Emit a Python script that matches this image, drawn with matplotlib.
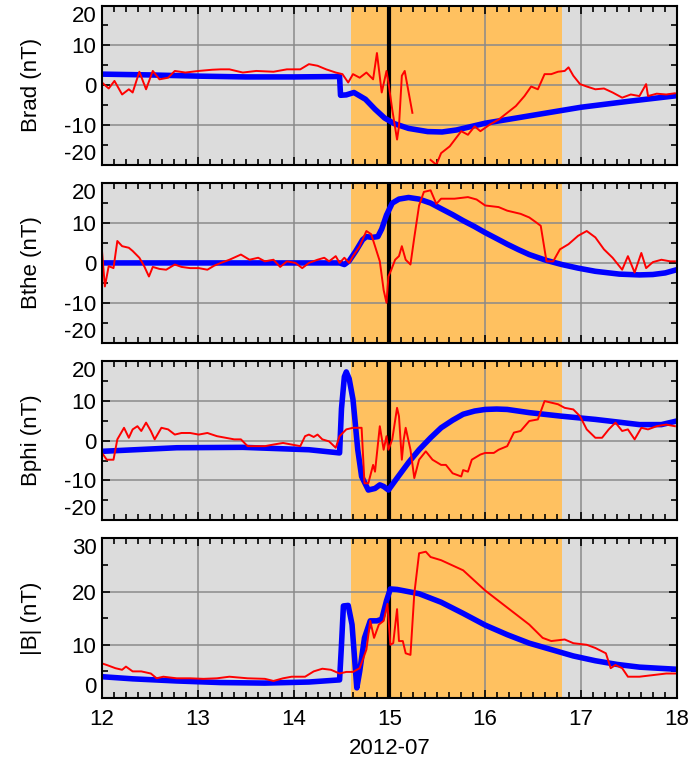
import numpy as np
import matplotlib
matplotlib.use("Agg")
import matplotlib.pyplot as plt
from matplotlib.ticker import MultipleLocator

plt.rcParams['font.family'] = ['Liberation Sans', 'DejaVu Sans']
plt.rcParams['axes.unicode_minus'] = False

# ---------------- data (days of 2012-07) ----------------
brad_obs_t = [12.00, 12.07, 12.13, 12.21, 12.28, 12.32, 12.39, 12.46, 12.53, 12.60, 12.69, 12.76,
              12.87, 13.01, 13.15, 13.24, 13.33, 13.47, 13.61, 13.79, 13.93, 14.07, 14.16, 14.25,
              14.34, 14.44, 14.51, 14.57, 14.62, 14.69, 14.76, 14.83, 14.87, 14.92, 14.97, 14.99,
              15.03, 15.08, 15.10, 15.13, 15.16, 15.24, 15.30,
              15.43, 15.49, 15.54, 15.63, 15.75, 15.82, 15.89, 15.95, 16.05, 16.14, 16.23, 16.32,
              16.41, 16.48, 16.55, 16.62, 16.69, 16.76, 16.83, 16.87, 16.92, 16.99, 17.06, 17.15,
              17.24, 17.33, 17.43, 17.52, 17.61, 17.68, 17.70, 17.79, 17.89, 17.98]
brad_obs_v = [0.7, -0.8, 1.1, -2.3, -1.0, -1.8, 3.4, -1.0, 3.6, 1.5, 1.9, 3.6,
              3.2, 3.6, 3.9, 4.0, 4.0, 3.2, 3.6, 3.4, 4.0, 4.0, 5.3, 4.9,
              4.0, 3.2, 2.8, 0.7, 2.8, 1.9, 3.2, 1.5, 8.1, -1.8, 3.6, 0.7,
              -6.1, -13.6, -10.3, 2.4, 3.6, -6.9, np.nan,
              -18.7, -19.9, -17.0, -15.3, -11.5, -12.4, -10.3, -11.5, -9.8, -8.6, -6.9, -5.2,
              -2.7, -0.3, -1.0, 2.8, 2.8, 3.4, 3.6, 4.5, 2.4, 0.3, -0.3, -1.0,
              -0.8, -1.8, -3.1, -2.3, -2.7, 0.3, -2.7, -2.1, -2.3, -2.0]
brad_mod_t = [12.0, 12.5, 13.0, 13.5, 14.0, 14.48, 14.49, 14.55, 14.63, 14.75, 14.85, 14.95,
              15.05, 15.2, 15.4, 15.55, 15.7, 16.0, 16.5, 17.0, 17.5, 18.0]
brad_mod_v = [2.8, 2.6, 2.3, 2.1, 2.1, 2.2, -2.5, -2.4, -1.8, -3.5, -6.0, -8.2,
              -9.6, -10.8, -11.6, -11.7, -11.2, -9.5, -7.5, -5.5, -4.0, -2.6]

bthe_obs_t = [12.00, 12.03, 12.07, 12.12, 12.16, 12.21, 12.28, 12.32, 12.39, 12.44, 12.49, 12.53,
              12.60, 12.67, 12.76, 12.83, 12.92, 13.01, 13.10, 13.17, 13.24, 13.33, 13.45, 13.54,
              13.63, 13.70, 13.79, 13.86, 13.93, 14.02, 14.09, 14.16, 14.25, 14.32, 14.37, 14.44,
              14.48, 14.53, 14.58, 14.62, 14.69, 14.76, 14.81, 14.85, 14.90, 14.94, 14.97, 14.99,
              15.02, 15.06, 15.10, 15.13, 15.17, 15.22, 15.26, 15.31, 15.36, 15.43, 15.49, 15.54,
              15.68, 15.82, 15.91, 16.00, 16.14, 16.23, 16.37, 16.46, 16.53, 16.58, 16.64, 16.71,
              16.78, 16.87, 16.97, 17.06, 17.15, 17.24, 17.33, 17.43, 17.49, 17.56, 17.63, 17.68,
              17.75, 17.84, 17.93, 17.98]
bthe_obs_v = [3.0, -5.9, -0.8, -1.3, 5.5, 4.2, 3.8, 3.0, 1.3, -0.8, -3.4, -1.0,
              -1.5, -1.7, -0.4, -1.0, -1.3, -1.3, -1.7, -0.7, 0.0, 0.8, 2.1, 0.8,
              1.3, 0.4, 0.8, -1.0, 0.4, 0.0, -1.3, 0.0, 0.8, 1.3, 0.4, 1.7,
              0.0, 1.3, 0.0, 1.7, 4.2, 8.0, 7.2, 4.2, 0.4, -6.8, -10.0, -3.4,
              -1.7, 0.8, 1.7, 4.2, 0.8, -0.4, 6.4, 14.4, 17.8, 18.2, 14.8, 16.1,
              16.1, 16.5, 15.9, 14.4, 14.0, 13.1, 12.3, 11.4, 10.2, 9.3, 0.4, 0.4,
              3.4, 4.7, 6.8, 8.0, 6.4, 3.4, 1.3, -1.7, 1.7, -2.4, 2.5, -1.3,
              0.2, 0.8, 0.4, 0.4]
bthe_mod_t = [12.0, 13.0, 14.0, 14.48, 14.53, 14.58, 14.65, 14.72, 14.76, 14.82, 14.88, 14.92,
              14.97, 15.03, 15.10, 15.20, 15.31, 15.43, 15.54, 15.66, 15.77, 15.89, 16.00, 16.12,
              16.23, 16.35, 16.46, 16.63, 16.80, 16.97, 17.15, 17.40, 17.61, 17.75, 17.88, 18.0]
bthe_mod_v = [0.0, 0.0, 0.0, 0.0, -0.4, 0.5, 3.0, 5.8, 6.6, 6.4, 6.6, 8.5,
              12.0, 15.0, 16.0, 16.4, 16.0, 15.0, 13.6, 12.1, 10.6, 9.1, 7.6, 6.1,
              4.7, 3.3, 2.1, 0.7, -0.4, -1.3, -2.1, -2.8, -3.0, -2.9, -2.5, -1.7]

bphi_obs_t = [12.00, 12.05, 12.12, 12.16, 12.23, 12.28, 12.32, 12.37, 12.41, 12.46, 12.51, 12.55,
              12.62, 12.69, 12.76, 12.83, 12.92, 13.01, 13.10, 13.20, 13.29, 13.38, 13.45, 13.52,
              13.61, 13.70, 13.79, 13.89, 13.98, 14.07, 14.12, 14.16, 14.21, 14.25, 14.30, 14.37,
              14.44, 14.48, 14.55, 14.62, 14.71, 14.74, 14.78, 14.83, 14.85, 14.90, 14.94, 14.97,
              14.99, 15.03, 15.08, 15.10, 15.13, 15.15, 15.17, 15.22, 15.26, 15.31, 15.38, 15.45,
              15.54, 15.59, 15.66, 15.75, 15.77, 15.82, 15.86, 15.95, 16.00, 16.09, 16.14, 16.23,
              16.30, 16.37, 16.46, 16.55, 16.62, 16.69, 16.76, 16.83, 16.92, 16.99, 17.06, 17.15,
              17.22, 17.29, 17.36, 17.43, 17.49, 17.56, 17.63, 17.70, 17.79, 17.89, 17.98]
bphi_obs_v = [-3.1, -4.8, -4.8, 0.3, 3.2, 0.7, 2.8, 3.6, 2.4, 4.5, 2.4, 0.3,
              3.2, 2.8, 1.5, 1.9, 1.9, 1.5, 1.9, 1.1, 0.7, 0.3, 0.3, -1.4,
              -1.4, -1.4, -1.0, -0.6, -1.0, -1.4, 1.1, 1.5, 0.9, 1.5, 0.3, -0.2,
              -1.8, 1.1, 2.8, 3.2, 3.2, -10.7, -10.7, -6.1, -7.8, 3.6, -2.3, 1.1,
              -2.3, 0.3, 8.2, 6.1, -4.8, 0.3, 3.2, -2.3, -9.4, -4.8, -2.7, -4.8,
              -6.1, -6.1, -8.2, -9.0, -7.4, -7.8, -4.8, -3.5, -3.1, -3.1, -2.3, -1.4,
              2.0, 2.4, 4.9, 5.3, 9.9, 9.5, 9.1, 8.2, 7.8, 6.1, 2.8, 0.7,
              0.7, 2.8, 4.5, 2.4, 2.8, 0.3, 3.2, 2.8, 3.6, 4.0, 3.6]
bphi_mod_t = [12.0, 12.78, 13.47, 14.16, 14.48, 14.50, 14.53, 14.55, 14.58, 14.62, 14.67, 14.71,
              14.78, 14.85, 14.90, 14.94, 14.99, 15.08, 15.20, 15.31, 15.43, 15.54, 15.66, 15.77,
              15.89, 16.00, 16.12, 16.23, 16.46, 16.80, 17.15, 17.40, 17.61, 17.84, 18.0]
bphi_mod_v = [-2.7, -1.8, -1.7, -2.3, -3.1, 8.0, 16.0, 17.2, 15.5, 10.3, -2.3, -9.0,
              -12.4, -12.0, -11.1, -11.5, -12.4, -9.4, -5.5, -2.3, 0.7, 3.2, 5.1, 6.6,
              7.4, 7.8, 7.9, 7.8, 7.0, 6.1, 5.3, 4.6, 4.0, 4.0, 4.9]

bmag_obs_t = [12.00, 12.05, 12.14, 12.21, 12.25, 12.32, 12.41, 12.51, 12.57, 12.64, 12.78, 12.92,
              13.06, 13.20, 13.33, 13.52, 13.70, 13.79, 13.89, 13.98, 14.12, 14.21, 14.30, 14.39,
              14.48, 14.55, 14.62, 14.69, 14.76, 14.80, 14.84, 14.89, 14.94, 14.98, 15.01, 15.04,
              15.08, 15.10, 15.14, 15.17, 15.22, 15.26, 15.31, 15.38, 15.43, 15.54, 15.77, 16.00,
              16.23, 16.46, 16.60, 16.69, 16.83, 16.92, 17.06, 17.15, 17.26, 17.31, 17.36, 17.43,
              17.49, 17.61, 17.75, 17.89, 18.00]
bmag_obs_v = [6.5, 6.2, 5.6, 5.3, 5.9, 5.0, 5.0, 4.6, 3.7, 4.0, 3.7, 3.7,
              3.6, 3.7, 4.0, 3.7, 3.6, 3.2, 3.7, 4.0, 4.0, 5.0, 5.5, 5.3,
              4.6, 4.9, 4.9, 5.6, 9.1, 14.5, 11.3, 13.8, 14.5, 17.7, 10.0, 10.3,
              16.7, 10.7, 10.7, 8.4, 8.1, 19.6, 27.2, 27.5, 26.5, 25.9, 24.0, 20.2,
              17.0, 13.8, 11.3, 10.7, 11.0, 10.3, 10.0, 9.4, 8.4, 5.6, 6.2, 5.6,
              4.0, 4.0, 4.3, 4.6, 4.6]
bmag_mod_t = [12.0, 12.32, 12.78, 13.24, 13.70, 14.16, 14.48, 14.50, 14.52, 14.57, 14.61, 14.66,
              14.69, 14.74, 14.80, 14.87, 14.92, 14.97, 15.01, 15.08, 15.31, 15.54, 15.77, 16.00,
              16.23, 16.46, 16.69, 16.92, 17.15, 17.38, 17.61, 17.80, 18.0]
bmag_mod_v = [4.0, 3.6, 3.2, 2.9, 2.8, 3.0, 3.4, 10.0, 17.3, 17.4, 13.8, 1.9,
              5.0, 11.3, 14.5, 14.5, 14.8, 18.3, 20.5, 20.4, 19.6, 18.0, 15.9, 13.7,
              11.9, 10.3, 9.1, 7.9, 7.0, 6.3, 5.8, 5.6, 5.4]

panel_labels = ["Brad (nT)", "Bthe (nT)", "Bphi (nT)", "|B| (nT)"]
panel_yticks = [[-20, -10, 0, 10, 20], [-20, -10, 0, 10, 20], [-20, -10, 0, 10, 20], [0, 10, 20, 30]]
shade_span = (14.6, 16.8)
event_time = 15.0
x_ticks = [12, 13, 14, 15, 16, 17, 18]
x_label = "2012-07"

obs = [(brad_obs_t, brad_obs_v), (bthe_obs_t, bthe_obs_v),
       (bphi_obs_t, bphi_obs_v), (bmag_obs_t, bmag_obs_v)]
mod = [(brad_mod_t, brad_mod_v), (bthe_mod_t, bthe_mod_v),
       (bphi_mod_t, bphi_mod_v), (bmag_mod_t, bmag_mod_v)]

# ---------------- figure ----------------
fig = plt.figure(figsize=(6.92, 7.65), dpi=100)
gs = fig.add_gridspec(4, 1, left=0.1474, right=0.978, top=0.9928, bottom=0.0876, hspace=0.113)

fs = 16
for i in range(4):
    ax = fig.add_subplot(gs[i])
    ax.set_facecolor('#dcdcdc')
    ax.set_axisbelow(True)
    ax.axvspan(*shade_span, color='#ffc160', zorder=0.2, lw=0)
    ax.grid(True, which='major', color='#8a8a8a', lw=1.1)
    ax.axvline(event_time, color='black', lw=3, zorder=1.5)
    ax.plot(*mod[i], color='#0000ff', lw=4, zorder=2, solid_joinstyle='round')
    ax.plot(*obs[i], color='#ff0000', lw=1.4, zorder=3)
    ax.set_xlim(12, 18)
    yt = panel_yticks[i]
    ax.set_ylim(yt[0], yt[-1])
    ax.set_yticks(yt)
    ax.set_xticks(x_ticks)
    ax.xaxis.set_minor_locator(MultipleLocator(0.125))
    ax.yaxis.set_minor_locator(MultipleLocator(5))
    ax.tick_params(which='both', direction='in', top=True, right=True, width=1.2, colors='black')
    ax.tick_params(which='major', length=6)
    ax.tick_params(which='minor', length=4)
    ax.tick_params(axis='y', labelsize=fs, pad=4)
    ax.tick_params(axis='x', labelsize=fs, pad=8)
    ylabs = ax.get_yticklabels()
    ylabs[0].set_verticalalignment('bottom')
    ylabs[-1].set_verticalalignment('top')
    for sp in ax.spines.values():
        sp.set_linewidth(1.5)
        sp.set_zorder(4)
    ax.set_ylabel(panel_labels[i], fontsize=fs)
    ax.yaxis.set_label_coords(-0.104, 0.5)
    if i < 3:
        ax.tick_params(axis='x', labelbottom=False)
    else:
        ax.set_xlabel(x_label, fontsize=fs, labelpad=6)

fig.savefig("out.png", dpi=100)
